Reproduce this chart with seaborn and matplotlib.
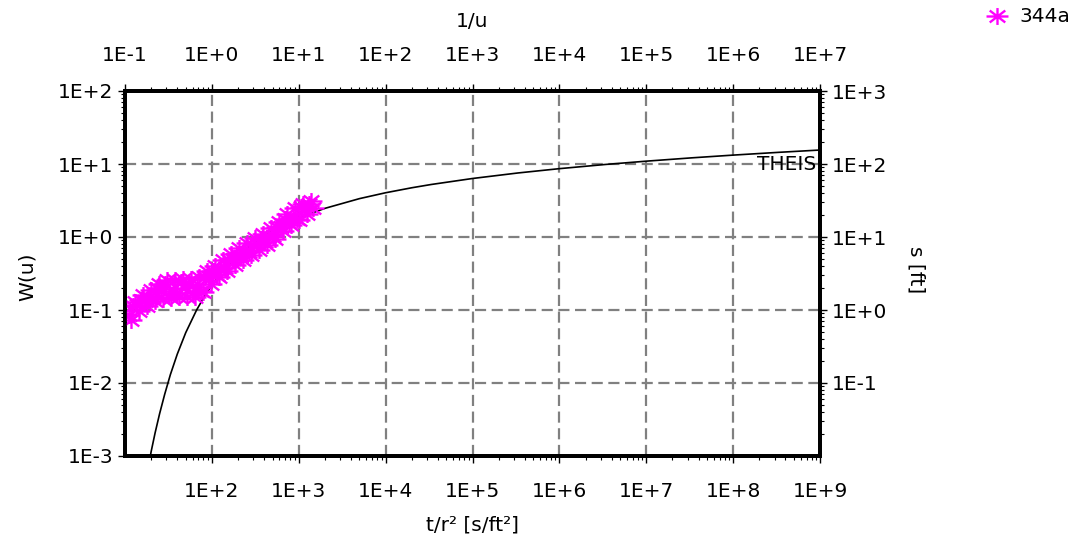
import numpy as np
import matplotlib
matplotlib.use('Agg')
import matplotlib.pyplot as plt
from matplotlib.path import Path
from matplotlib.ticker import FixedLocator, FuncFormatter, LogLocator, NullFormatter
import pandas as pd
import seaborn as sns

# Theis type curve: 1/u against W(u)
theis_inv_u = [0.16, 0.2, 0.222, 0.25, 0.286, 0.333, 0.4, 0.5, 0.667, 0.833, 1.0, 1.25,
               1.43, 2.0, 3.33, 5.0, 10.0, 20.0, 50.0, 100.0, 200.0, 333.0, 1000.0,
               3333.0, 1e4, 3.33e4, 1e5, 3.33e5, 1e6, 3.33e6, 1e7]
theis_w = [0.00027, 0.00115, 0.00207, 0.00378, 0.00697, 0.01305, 0.02491, 0.0489, 0.1,
           0.1584, 0.2194, 0.3106, 0.3738, 0.5598, 0.9057, 1.2227, 1.8229, 2.4679,
           3.3547, 4.0379, 4.726, 5.235, 6.3315, 7.535, 8.6332, 9.837, 10.9357,
           12.14, 13.2383, 14.443, 15.5409]

# well 344a: drawdown s [ft] against t/r^2 [s/ft^2]
well_t_r2 = [11.1, 11.7, 12.4, 13.0, 13.7, 14.5, 15.3, 16.1, 17.0, 17.9, 18.9, 19.9,
             21.0, 22.2, 23.4, 24.6, 26.0, 27.4, 28.9, 30.5, 32.1, 33.9, 35.7, 37.7,
             39.7, 41.9, 44.2, 46.6, 49.1, 51.8, 54.6, 57.6, 60.7, 64.0, 67.5, 71.2,
             75.1, 79.2, 83.5, 88.0, 92.8, 97.9, 103, 109, 115, 121, 128, 135, 142, 150,
             158, 166, 175, 185, 195, 206, 217, 229, 241, 254, 268, 283, 298, 315, 332,
             350, 369, 389, 410, 432, 456, 481, 507, 535, 564, 595, 627, 661, 697, 735,
             775, 817, 862, 909, 958, 1011, 1066, 1124, 1185, 1250, 1318, 1390, 1466]
well_s_ft = [0.854, 0.730, 1.13, 1.30, 1.16, 0.954, 1.36, 1.62, 1.31, 1.12, 1.50, 1.88,
             1.47, 1.32, 2.00, 2.25, 1.84, 1.41, 2.29, 2.55, 1.61, 1.46, 1.94, 2.59,
             1.73, 1.49, 2.42, 2.66, 2.00, 1.51, 2.27, 2.66, 1.71, 1.52, 2.05, 2.79,
             1.82, 1.76, 2.83, 3.41, 2.81, 2.29, 3.40, 4.03, 3.06, 2.83, 3.70, 4.84, 3.73,
             3.47, 4.84, 5.91, 4.95, 4.14, 5.91, 7.00, 5.49, 4.87, 6.29, 8.15, 6.19, 5.70,
             7.89, 9.60, 7.97, 6.64, 9.45, 11.1, 8.41, 7.77, 10.2, 13.3, 10.2, 9.39, 13.5,
             16.3, 13.9, 11.9, 17.8, 20.8, 15.6, 14.7, 19.0, 24.6, 17.5, 17.0, 25.8, 28.7,
             24.0, 20.7, 28.6, 30.8, 25.0]
well_name = '344a'

bottom_ticks = [1e2, 1e3, 1e4, 1e5, 1e6, 1e7, 1e8, 1e9]
top_ticks = [1e-1, 1e0, 1e1, 1e2, 1e3, 1e4, 1e5, 1e6, 1e7]
left_ticks = [1e-3, 1e-2, 1e-1, 1e0, 1e1, 1e2]
right_ticks = [1e-1, 1e0, 1e1, 1e2, 1e3]

MAGENTA = '#ff00ff'
FONT_SIZE = 14.5


def sci_label(value, pos):
    """1E+2 style tick labels"""
    return f"1E{int(round(np.log10(value))):+d}"


def asterisk_marker(stretch=1.3):
    """8 spoke asterisk, a bit wider than tall"""
    verts, codes = [], []
    for angle in np.deg2rad(np.arange(0, 360, 45)):
        verts += [(0, 0), (stretch * np.cos(angle), np.sin(angle))]
        codes += [Path.MOVETO, Path.LINETO]
    return Path(verts, codes)


def style_log_axis(axis, ticks):
    axis.set_major_locator(FixedLocator(ticks))
    axis.set_major_formatter(FuncFormatter(sci_label))
    axis.set_minor_locator(LogLocator(base=10, subs=np.arange(2, 10), numticks=30))
    axis.set_minor_formatter(NullFormatter())


sns.set_style('white')
plt.rcParams['font.family'] = ['DejaVu Sans']
plt.rcParams.update({
    'text.color': 'black', 'axes.labelcolor': 'black',
    'xtick.color': 'black', 'ytick.color': 'black',
})

df_theis = pd.DataFrame({'inv_u': theis_inv_u, 'W': theis_w})
df_well = pd.DataFrame({'t_r2': well_t_r2, 's': well_s_ft})

fig = plt.figure(figsize=(10.88, 5.44), dpi=100)
ax = fig.add_axes([125 / 1088, 88 / 544, 695 / 1088, 365 / 544])
ax_s = ax.twinx()
ax_u = ax.twiny()
ax_s.set_zorder(ax_u.get_zorder() + 1)
ax_s.patch.set_visible(False)

for a in (ax, ax_s, ax_u):
    a.set_xscale('log')
    a.set_yscale('log')

sns.lineplot(data=df_theis, x='inv_u', y='W', ax=ax_u, color='black', linewidth=1.2)
sns.scatterplot(
    data=df_well, x='t_r2', y='s', ax=ax_s, marker=asterisk_marker(), s=250,
    color=MAGENTA, edgecolor=MAGENTA, linewidth=1.7, legend=False,
)

ax.set_xlim(1e1, 1e9)
ax.set_ylim(1e-3, 1e2)
ax_s.set_ylim(1e-2, 1e3)
ax_u.set_xlim(1e-1, 1e7)

style_log_axis(ax.xaxis, bottom_ticks)
style_log_axis(ax.yaxis, left_ticks)
style_log_axis(ax_s.yaxis, right_ticks)
style_log_axis(ax_u.xaxis, top_ticks)

ax.grid(True, which='major', color='#808080', linestyle=(0, (5, 2.5)), linewidth=1.6)
ax.grid(False, which='minor')

for a in (ax, ax_s, ax_u):
    a.tick_params(which='major', length=5, width=1, labelsize=FONT_SIZE, pad=3.5)
    a.tick_params(which='minor', length=3, width=0.8)
    for spine in a.spines.values():
        spine.set_linewidth(2.6)
        spine.set_color('black')
ax.tick_params(axis='x', which='major', pad=14)
ax_u.tick_params(axis='x', which='major', pad=14)

ax.set_xlabel('t/r² [s/ft²]', fontsize=FONT_SIZE)
ax.xaxis.set_label_coords(0.5, -0.162)
ax.set_ylabel('W(u)', fontsize=FONT_SIZE)
ax.yaxis.set_label_coords(-0.127, 0.49)
ax_u.set_xlabel('1/u', fontsize=FONT_SIZE)
ax_u.xaxis.set_label_coords(0.5, 1.175)
ax_u.set_ylabel('')
ax_s.set_xlabel('')
ax_s.set_ylabel('s [ft]', fontsize=FONT_SIZE, rotation=270, va='bottom')
ax_s.yaxis.set_label_coords(1.125, 0.51)

ax_u.text(1.9e6, 9.7, 'THEIS', fontsize=FONT_SIZE, ha='left', va='center')

points = ax_s.collections[-1]
fig.legend([points], [well_name], loc='upper left', bbox_to_anchor=(981 / 1088, 0.995),
           frameon=False, fontsize=FONT_SIZE, handlelength=1.2, handletextpad=0.5,
           borderaxespad=0, borderpad=0.2)

fig.savefig('out.png', dpi=100)
